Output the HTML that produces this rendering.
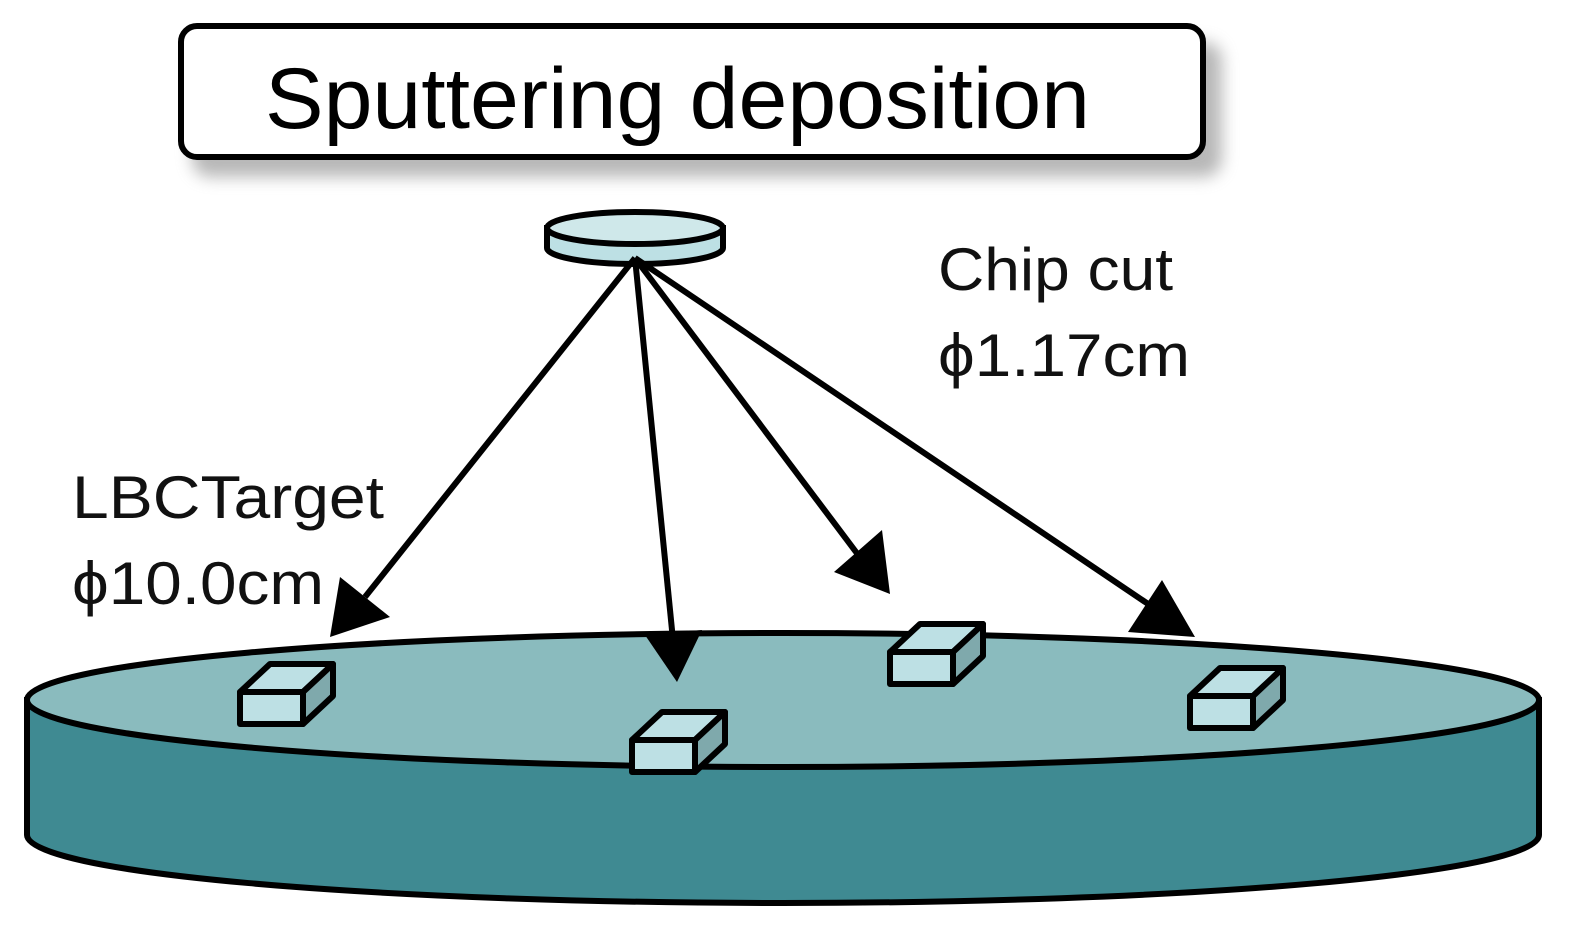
<!DOCTYPE html>
<html><head><meta charset="utf-8"><style>html,body{margin:0;padding:0;background:#fff}svg{display:block}</style></head>
<body>
<svg width="1570" height="928" viewBox="0 0 1570 928" xmlns="http://www.w3.org/2000/svg" font-family="Liberation Sans, DejaVu Sans, sans-serif">
<defs>
<filter id="sh" x="-10%" y="-30%" width="120%" height="170%"><feGaussianBlur stdDeviation="8"/></filter>
</defs>
<!-- title -->
<rect x="192" y="42" width="1030" height="135" rx="18" fill="#888" opacity="0.6" filter="url(#sh)"/>
<rect x="181" y="26" width="1022" height="131" rx="16" fill="#fff" stroke="#000" stroke-width="6"/>
<text x="265" y="128" font-size="86" textLength="825" lengthAdjust="spacingAndGlyphs">Sputtering deposition</text>
<!-- disk -->
<path d="M27,700 L27,835 A756,68 0 0 0 1539,835 L1539,700 Z" fill="#3f8a92" stroke="#000" stroke-width="6"/>
<ellipse cx="783" cy="700" rx="756" ry="67" fill="#8abbbe" stroke="#000" stroke-width="6"/>
<!-- lens -->
<path d="M547,228 L547,248 A88,16 0 0 0 723,248 L723,228 Z" fill="#bde0e4" stroke="#000" stroke-width="6"/>
<ellipse cx="635" cy="228" rx="88" ry="16" fill="#cfe8ea" stroke="#000" stroke-width="6"/>
<!-- arrows -->
<g stroke="#000" stroke-width="6" fill="#000">
<line x1="635" y1="258" x2="365" y2="597"/>
<polygon points="330,637 340,577 390,617" stroke="none"/>
<line x1="635" y1="258" x2="673" y2="640"/>
<polygon points="677,682 645,635 702,630" stroke="none"/>
<line x1="635" y1="258" x2="862" y2="560"/>
<polygon points="890,594 834,572 882,530" stroke="none"/>
<line x1="635" y1="258" x2="1160" y2="612"/>
<polygon points="1195,637 1128,632 1162,580" stroke="none"/>
</g>
<!-- chips -->
<g stroke="#000" stroke-width="6" stroke-linejoin="round">
<g transform="translate(240,692)"><polygon points="0,0 30,-28 93,-28 63,0" fill="#bde0e4"/><polygon points="63,0 93,-28 93,4 63,32" fill="#7fa9ac"/><rect x="0" y="0" width="63" height="32" fill="#bde0e4"/></g>
<g transform="translate(632,740)"><polygon points="0,0 30,-28 93,-28 63,0" fill="#bde0e4"/><polygon points="63,0 93,-28 93,4 63,32" fill="#7fa9ac"/><rect x="0" y="0" width="63" height="32" fill="#bde0e4"/></g>
<g transform="translate(890,652)"><polygon points="0,0 30,-28 93,-28 63,0" fill="#bde0e4"/><polygon points="63,0 93,-28 93,4 63,32" fill="#7fa9ac"/><rect x="0" y="0" width="63" height="32" fill="#bde0e4"/></g>
<g transform="translate(1190,696)"><polygon points="0,0 30,-28 93,-28 63,0" fill="#bde0e4"/><polygon points="63,0 93,-28 93,4 63,32" fill="#7fa9ac"/><rect x="0" y="0" width="63" height="32" fill="#bde0e4"/></g>
</g>
<!-- labels -->
<g font-size="60" fill="#111">
<text x="72" y="518" textLength="312" lengthAdjust="spacingAndGlyphs">LBCTarget</text>
<text x="72" y="604" textLength="252" lengthAdjust="spacingAndGlyphs">ϕ10.0cm</text>
<text x="938" y="290" textLength="235" lengthAdjust="spacingAndGlyphs">Chip cut</text>
<text x="938" y="376" textLength="252" lengthAdjust="spacingAndGlyphs">ϕ1.17cm</text>
</g>
</svg>
</body></html>
